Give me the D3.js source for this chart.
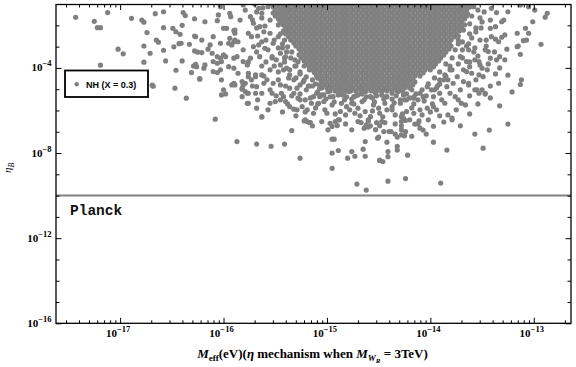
<!DOCTYPE html>
<html>
<head>
<meta charset="utf-8">
<script src="https://cdn.jsdelivr.net/npm/d3@7"></script>
<style>
  body { margin: 0; background: #fff; }
</style>
</head>
<body>
<div id="chart"></div>
<script>
// Values, as log10(M_eff / eV) and log10(eta_B)

// scattered points around the cloud
var outerPts = [
  // far left
  [-17.43,-1.62],[-17.12,-1.40],[-17.25,-1.81],[-17.22,-2.11],[-17.19,-2.11],[-16.89,-1.67],[-16.79,-1.75],[-16.77,-1.85],
  [-16.66,-1.45],[-16.58,-1.36],[-16.39,-1.40],[-16.37,-1.54],[-16.28,-1.69],[-16.58,-2.11],[-16.49,-2.14],[-16.46,-2.30],
  [-16.40,-2.00],[-16.74,-2.34],[-16.42,-2.42],[-16.28,-2.50],[-16.65,-2.69],[-16.63,-2.79],[-16.77,-2.97],[-17.02,-3.12],
  [-16.97,-3.34],[-16.58,-3.17],[-16.48,-3.01],[-16.43,-2.86],[-16.41,-2.84],[-16.33,-2.89],[-16.28,-3.20],[-16.25,-3.26],
  [-16.71,-3.31],[-16.77,-3.73],[-16.56,-3.67],[-16.40,-3.67],[-16.29,-3.91],[-16.27,-3.83],[-17.19,-3.87],[-16.46,-4.11],
  [-16.31,-4.22],[-16.23,-4.50],[-16.69,-4.81],[-16.68,-4.86],[-16.47,-4.95],[-16.36,-5.42],
  // left wing
  [-16.18,-1.83],[-16.06,-1.78],[-16.05,-1.51],[-16.03,-1.12],[-15.94,-1.43],[-15.93,-1.59],[-16.00,-2.14],[-15.97,-2.14],
  [-15.90,-2.25],[-15.89,-2.37],[-16.10,-2.53],[-16.27,-2.53],[-16.21,-2.69],[-16.13,-2.92],[-16.03,-2.84],[-15.94,-2.61],
  [-15.89,-2.69],[-15.86,-2.77],[-15.95,-2.84],[-15.92,-2.92],[-16.21,-3.28],[-16.15,-3.12],[-16.11,-3.31],[-16.06,-3.47],
  [-16.03,-3.54],[-16.10,-3.70],[-16.06,-3.78],[-16.02,-3.70],[-16.00,-3.39],[-15.98,-3.47],[-15.90,-3.54],[-15.87,-3.47],
  [-16.26,-3.94],[-16.19,-4.01],[-16.18,-3.86],[-16.10,-4.17],[-16.06,-4.22],[-16.03,-4.09],[-15.95,-3.94],[-15.90,-4.01],
  [-16.23,-4.53],[-16.02,-4.56],[-15.92,-4.80],[-15.89,-4.80],[-15.82,-4.64],[-15.81,-4.80],[-16.00,-5.03],[-16.02,-5.27],
  [-15.98,-5.22],[-15.77,-5.19],[-15.76,-5.66],[-15.68,-5.89],[-15.63,-6.31],[-16.08,-6.41],[-15.82,-5.00],[-15.79,-5.11],
  [-15.76,-4.41],[-15.73,-4.56],[-15.69,-4.33],
  [-15.89,-2.22],[-15.90,-2.77],[-15.81,-1.04],[-15.79,-1.28],[-15.84,-1.75],[-15.74,-1.59],[-15.71,-1.90],[-15.76,-2.37],
  [-15.73,-2.53],[-15.81,-3.15],[-15.71,-3.00],[-15.74,-3.54],[-15.66,-1.20],[-15.63,-1.43],[-15.65,-2.06],[-15.61,-2.30],
  [-15.63,-2.77],[-15.60,-3.08],[-15.65,-3.47],[-15.57,-1.12],[-15.55,-1.75],[-15.55,-2.37],[-15.52,-2.84],[-15.53,-3.47],
  [-15.48,-1.43],[-15.47,-1.98],[-15.47,-2.53],[-15.45,-3.31],[-15.41,-2.69],[-15.38,-3.01],[-15.40,-3.48],[-15.34,-3.25],
  [-15.31,-3.62],[-15.37,-2.22],[-15.42,-1.65],[-15.39,-1.28],[-15.59,-3.72],[-15.51,-3.91],[-15.43,-3.06],
  [-15.81,-3.70],[-15.77,-3.86],[-15.86,-4.25],[-15.76,-4.25],[-15.90,-4.72],[-15.79,-4.72],[-15.82,-4.95],[-15.69,-4.41],
  [-15.63,-4.33],[-15.68,-4.88],[-15.61,-4.72],[-15.58,-4.56],[-15.76,-5.19],[-15.69,-5.19],[-15.63,-5.19],[-15.82,-5.35],
  [-15.53,-5.19],[-15.44,-5.19],[-15.52,-4.72],[-15.47,-4.56],[-15.45,-4.80],[-15.77,-5.66],[-15.55,-5.66],[-15.50,-5.58],
  [-15.45,-5.50],[-15.40,-5.58],[-15.42,-5.35],[-15.36,-5.82],[-15.32,-5.94],[-15.29,-5.97],[-15.28,-5.42],[-15.24,-5.82],
  [-15.19,-5.97],[-15.15,-5.66],[-15.13,-6.13],[-15.21,-6.44],[-15.63,-6.29],[-15.36,-4.95],[-15.32,-5.19],[-15.29,-4.95],
  [-15.26,-4.80],[-15.45,-3.86],[-15.42,-4.09],[-15.39,-4.01],[-15.36,-4.33],[-15.32,-4.56],[-15.21,-5.50],[-15.13,-5.35],
  [-15.28,-3.72],[-15.22,-3.91],[-15.17,-4.09],[-15.26,-4.19],[-15.20,-4.42],[-15.14,-4.56],[-15.23,-4.66],[-15.17,-4.85],
  [-15.11,-4.75],[-15.09,-4.47],
  [-15.70,-1.00],[-15.68,-1.37],[-15.72,-1.75],[-15.63,-1.65],[-15.68,-2.12],[-15.60,-2.03],[-15.67,-2.50],[-15.59,-2.69],
  [-15.62,-1.18],[-15.66,-2.92],[-15.57,-3.15],[-15.49,-3.62],[-15.41,-3.72],[-15.55,-4.09],[-15.37,-4.47],[-15.47,-4.19],
  [-15.30,-3.91],[-15.40,-4.85],[-15.34,-5.31],[-15.26,-5.22],[-15.20,-5.03],[-15.14,-4.85],[-15.09,-5.13],
  [-15.68,-3.25],[-15.76,-3.72],[-15.63,-3.91],[-15.53,-3.53],[-15.61,-4.38],[-15.72,-4.85],[-15.55,-5.03],[-15.67,-5.50],
  [-15.49,-5.31],[-15.38,-5.69],[-15.30,-6.25],[-15.43,-6.07],[-15.57,-5.97],
  [-15.43,-2.87],[-15.39,-3.25],[-15.35,-3.53],[-15.31,-3.91],[-15.26,-4.28],[-15.22,-4.56],[-15.18,-4.85],[-15.30,-4.47],
  [-15.36,-4.09],[-15.41,-3.53],[-15.47,-3.06],[-15.51,-2.69],[-15.45,-2.40],
  // under the cloud
  [-15.10,-5.19],[-15.07,-5.35],[-15.03,-5.27],[-14.99,-5.11],[-14.94,-5.35],[-14.89,-5.19],[-14.84,-5.27],[-14.79,-5.11],
  [-14.74,-5.35],[-14.70,-5.27],[-14.63,-5.11],[-14.58,-5.35],[-14.53,-5.19],[-14.47,-5.11],[-14.42,-5.35],[-14.37,-5.19],
  [-14.31,-5.11],[-14.26,-5.27],[-15.08,-5.66],[-15.03,-5.58],[-14.95,-5.74],[-14.86,-5.66],[-14.81,-5.82],[-14.76,-5.66],
  [-14.70,-5.89],[-14.66,-5.58],[-14.55,-5.74],[-14.50,-5.89],[-14.44,-5.66],[-14.37,-5.82],[-14.29,-5.66],[-15.00,-6.13],
  [-14.87,-6.05],[-14.82,-6.21],[-14.73,-6.13],[-14.63,-6.05],[-14.58,-6.29],[-14.49,-6.13],[-14.42,-5.97],[-14.34,-6.21],
  [-15.05,-6.52],[-14.97,-6.60],[-14.89,-6.44],[-14.70,-6.52],[-14.60,-6.44],[-14.52,-6.57],[-14.28,-6.29],
  [-15.07,-4.95],[-14.97,-4.85],[-14.87,-5.00],[-14.78,-4.90],[-14.68,-4.95],[-14.56,-4.85],[-14.45,-5.00],[-14.34,-4.90],
  [-14.24,-4.85],[-14.18,-5.03],
  [-14.85,-5.27],[-14.76,-5.46],[-14.66,-5.22],[-14.56,-5.41],[-14.47,-5.27],[-14.37,-5.46],
  [-15.05,-5.27],[-14.97,-5.36],[-14.89,-5.27],[-14.81,-5.36],[-14.72,-5.31],[-14.62,-5.36],[-14.52,-5.31],[-14.43,-5.36],
  [-14.33,-5.31],[-14.23,-5.22],[-14.16,-5.36],
  [-15.26,-5.50],[-15.16,-5.41],[-15.09,-5.69],[-15.01,-5.46],[-14.93,-5.60],[-14.83,-5.50],[-14.74,-5.69],[-14.64,-5.50],
  [-14.54,-5.60],[-14.45,-5.46],[-14.35,-5.64],[-14.25,-5.50],[-14.16,-5.69],[-14.06,-5.55],[-13.98,-5.69],
  [-15.21,-6.07],[-15.11,-5.88],[-15.02,-5.97],[-14.92,-6.16],[-14.78,-5.97],[-14.68,-6.25],[-14.56,-6.02],[-14.46,-6.30],
  [-14.37,-5.97],[-14.27,-6.16],[-14.18,-5.88],[-14.08,-6.21],[-14.00,-6.07],[-13.91,-6.25],[-13.75,-5.97],
  [-15.14,-6.72],[-14.99,-6.91],[-14.82,-6.63],[-14.76,-6.91],[-14.49,-6.72],[-14.34,-6.63],[-14.12,-6.63],[-14.02,-6.44],
  [-13.87,-6.54],[-13.71,-6.72],[-13.62,-6.16],[-13.54,-5.69],[-13.42,-5.41],[-13.33,-5.78],
  // right flank
  [-13.71,-3.47],[-13.65,-3.70],[-13.57,-3.62],[-13.52,-3.86],[-13.68,-4.09],[-13.60,-4.25],[-13.53,-4.33],[-13.45,-4.09],
  [-13.74,-4.41],[-13.68,-4.64],[-13.63,-4.72],[-13.84,-4.88],[-13.78,-4.72],[-13.81,-5.19],[-13.91,-5.19],[-13.89,-5.50],
  [-13.86,-5.66],[-13.76,-5.35],[-13.73,-5.50],[-13.70,-5.66],[-13.66,-5.74],[-13.97,-5.82],[-13.94,-5.97],[-14.03,-5.89],
  [-14.10,-5.97],[-14.23,-6.05],[-14.16,-6.13],[-13.83,-6.21],[-13.79,-6.36],[-13.57,-5.03],[-13.53,-5.19],[-13.50,-5.03],
  [-13.47,-5.19],[-14.03,-4.88],[-13.99,-5.03],[-14.10,-5.19],[-14.07,-5.35],[-14.16,-5.42],[-14.23,-5.50],[-13.97,-5.35],
  [-14.26,-6.36],[-14.20,-6.44],[-13.91,-4.56],[-13.86,-4.33],[-13.81,-4.09],[-13.93,-4.84],[-13.83,-4.56],
  [-13.69,-2.78],[-13.76,-3.15],[-13.79,-3.53],[-13.85,-3.81],[-13.91,-4.19],[-13.96,-4.47],[-14.02,-4.75],[-14.08,-5.03],
  [-14.14,-5.22],[-13.73,-2.50],[-13.81,-3.91],[-13.87,-4.56],[-13.94,-4.94],
  [-13.71,-1.20],[-13.64,-1.46],[-13.58,-1.12],[-13.52,-1.65],[-13.62,-1.93],[-13.68,-2.22],[-13.56,-2.31],[-13.48,-1.37],
  [-13.73,-2.69],[-13.63,-2.87],[-13.57,-3.06],[-13.69,-3.15],[-13.46,-2.69],[-13.42,-1.75],[-13.60,-2.59],[-13.51,-2.12],
  [-13.58,-0.95],[-13.54,-1.28],[-13.60,-1.56],[-13.50,-1.84],[-13.56,-2.12],[-13.62,-2.40],[-13.52,-2.69],[-13.65,-2.97],
  [-13.58,-3.25],[-13.69,-3.53],[-13.73,-3.81],[-13.79,-4.09],[-13.85,-4.38],[-13.91,-4.75],[-13.96,-5.03],[-14.04,-5.31],
  [-14.12,-5.50],[-14.20,-5.41],[-14.29,-5.50],
  [-13.46,-2.97],[-13.38,-3.25],[-13.54,-3.44],[-13.62,-3.72],[-13.44,-3.81],[-13.33,-4.00],[-13.56,-4.56],[-13.42,-4.85],
  [-13.71,-5.03],[-13.62,-5.31],[-13.28,-3.62],[-13.21,-5.13],[-13.73,-2.87],[-13.63,-3.15],
  [-13.41,-1.20],[-13.36,-1.40],[-13.25,-1.36],[-13.13,-1.04],[-13.05,-1.12],[-12.99,-1.28],[-12.87,-1.43],[-12.89,-1.62],
  [-13.01,-1.83],[-13.08,-2.14],[-13.16,-2.37],[-13.05,-2.37],[-13.10,-2.72],[-13.07,-2.69],[-12.93,-2.89],[-13.16,-3.00],
  [-13.15,-2.97],[-13.13,-3.36],[-13.31,-1.83],[-13.29,-1.75],[-13.42,-2.14],[-13.37,-2.06],[-13.41,-2.53],[-13.37,-2.65],
  [-13.34,-2.77],[-13.31,-2.56],[-13.28,-2.45],[-13.26,-3.12],[-13.33,-3.47],[-13.36,-3.62],[-13.47,-3.15],[-13.44,-3.23],
  [-13.42,-3.54],[-13.53,-3.70],[-13.50,-4.01],[-13.37,-4.28],[-13.25,-4.34],[-13.12,-4.56],[-13.13,-4.78],[-13.34,-4.72],
  [-13.55,-5.03],[-13.47,-5.23],[-13.63,-4.80],[-13.62,-3.94],[-13.65,-4.17],[-13.49,-4.41],
  // low tail
  [-15.22,-6.49],[-15.19,-6.52],[-15.17,-6.57],[-15.16,-6.57],[-15.34,-6.94],[-15.87,-7.46],[-15.68,-7.58],[-15.54,-7.68],
  [-15.41,-7.58],[-15.26,-8.24],[-14.95,-6.75],[-14.92,-6.52],[-14.90,-6.71],[-14.88,-6.44],[-14.95,-7.35],[-14.93,-7.35],
  [-14.95,-8.00],[-14.89,-7.88],[-14.95,-8.72],[-14.80,-8.24],[-14.76,-7.93],[-14.73,-8.15],[-14.67,-6.57],[-14.64,-6.83],
  [-14.62,-6.68],[-14.60,-6.78],[-14.60,-6.49],[-14.53,-6.90],[-14.63,-7.46],[-14.65,-7.82],[-14.63,-8.15],[-14.51,-7.30],
  [-14.50,-7.25],[-14.49,-8.33],[-14.71,-9.46],[-14.62,-9.74],[-14.58,-6.72],[-14.45,-6.99],[-14.47,-6.52],[-14.44,-6.57],
  [-14.40,-6.99],[-14.38,-6.99],[-14.42,-7.49],[-14.41,-7.93],[-14.41,-8.17],[-14.49,-8.35],[-14.46,-8.40],[-14.41,-9.32],
  [-14.34,-7.11],[-14.32,-7.25],[-14.32,-7.68],[-14.32,-7.86],[-14.28,-6.52],[-14.28,-6.72],[-14.28,-6.91],[-14.28,-7.15],
  [-14.25,-7.19],[-14.24,-6.99],[-14.24,-6.47],[-14.22,-8.10],[-14.24,-9.20],[-14.18,-7.21],[-14.15,-6.64],[-14.11,-6.49],
  [-14.10,-6.83],[-14.07,-6.92],[-14.04,-7.11],[-13.97,-6.74],[-13.97,-7.49],[-13.90,-9.41],[-13.84,-7.86],[-13.79,-6.44],
  [-13.57,-7.11],[-13.49,-7.77],[-13.43,-6.92],[-13.25,-6.64]
];

// the saturated core of the cloud, read row by row (one eta per row)
var coreEta = [-1.00,-1.14,-1.28,-1.42,-1.56,-1.70,-1.84,-1.98,-2.12,-2.26,
               -2.40,-2.54,-2.69,-2.83,-2.97,-3.11,-3.25,-3.39,-3.53,-3.67,
               -3.81,-3.95,-4.09,-4.23,-4.38,-4.52,-4.66,-4.80,-4.94,-5.08];
var coreM = [
  [-15.55,-15.50,-15.45,-15.40,-15.35,-15.30,-15.25,-15.20,-15.15,-15.10,-15.05,-15.00,-14.95,-14.90,-14.85,-14.80,-14.75,-14.70,-14.65,-14.60,-14.55,-14.50,-14.45,-14.40,-14.35,-14.30,-14.25,-14.20,-14.15,-14.10,-14.05,-14.00,-13.95,-13.90,-13.85,-13.80,-13.75,-13.70,-13.65],
  [-15.52,-15.47,-15.42,-15.37,-15.32,-15.27,-15.22,-15.17,-15.12,-15.07,-15.02,-14.97,-14.92,-14.87,-14.82,-14.77,-14.72,-14.67,-14.62,-14.57,-14.52,-14.47,-14.42,-14.37,-14.32,-14.27,-14.22,-14.17,-14.12,-14.07,-14.02,-13.97,-13.92,-13.87,-13.82,-13.77,-13.72,-13.67,-13.62],
  [-15.50,-15.45,-15.40,-15.35,-15.30,-15.25,-15.20,-15.15,-15.10,-15.05,-15.00,-14.95,-14.90,-14.85,-14.80,-14.75,-14.70,-14.65,-14.60,-14.55,-14.50,-14.45,-14.40,-14.35,-14.30,-14.25,-14.20,-14.15,-14.10,-14.05,-14.00,-13.95,-13.90,-13.85,-13.80,-13.75,-13.70,-13.65],
  [-15.52,-15.47,-15.42,-15.37,-15.32,-15.27,-15.22,-15.17,-15.12,-15.07,-15.02,-14.97,-14.92,-14.87,-14.82,-14.77,-14.72,-14.67,-14.62,-14.57,-14.52,-14.47,-14.42,-14.37,-14.32,-14.27,-14.22,-14.17,-14.12,-14.07,-14.02,-13.97,-13.92,-13.87,-13.82,-13.77,-13.72,-13.67],
  [-15.50,-15.45,-15.40,-15.35,-15.30,-15.25,-15.20,-15.15,-15.10,-15.05,-15.00,-14.95,-14.90,-14.85,-14.80,-14.75,-14.70,-14.65,-14.60,-14.55,-14.50,-14.45,-14.40,-14.35,-14.30,-14.25,-14.20,-14.15,-14.10,-14.05,-14.00,-13.95,-13.90,-13.85,-13.80,-13.75,-13.70,-13.65],
  [-15.47,-15.42,-15.37,-15.32,-15.27,-15.22,-15.17,-15.12,-15.07,-15.02,-14.97,-14.92,-14.87,-14.82,-14.77,-14.72,-14.67,-14.62,-14.57,-14.52,-14.47,-14.42,-14.37,-14.32,-14.27,-14.22,-14.17,-14.12,-14.07,-14.02,-13.97,-13.92,-13.87,-13.82,-13.77,-13.72,-13.67],
  [-15.45,-15.40,-15.35,-15.30,-15.25,-15.20,-15.15,-15.10,-15.05,-15.00,-14.95,-14.90,-14.85,-14.80,-14.75,-14.70,-14.65,-14.60,-14.55,-14.50,-14.45,-14.40,-14.35,-14.30,-14.25,-14.20,-14.15,-14.10,-14.05,-14.00,-13.95,-13.90,-13.85,-13.80,-13.75,-13.70],
  [-15.42,-15.37,-15.32,-15.27,-15.22,-15.17,-15.12,-15.07,-15.02,-14.97,-14.92,-14.87,-14.82,-14.77,-14.72,-14.67,-14.62,-14.57,-14.52,-14.47,-14.42,-14.37,-14.32,-14.27,-14.22,-14.17,-14.12,-14.07,-14.02,-13.97,-13.92,-13.87,-13.82,-13.77,-13.72,-13.67],
  [-15.40,-15.35,-15.30,-15.25,-15.20,-15.15,-15.10,-15.05,-15.00,-14.95,-14.90,-14.85,-14.80,-14.75,-14.70,-14.65,-14.60,-14.55,-14.50,-14.45,-14.40,-14.35,-14.30,-14.25,-14.20,-14.15,-14.10,-14.05,-14.00,-13.95,-13.90,-13.85,-13.80,-13.75,-13.70],
  [-15.42,-15.37,-15.32,-15.27,-15.22,-15.17,-15.12,-15.07,-15.02,-14.97,-14.92,-14.87,-14.82,-14.77,-14.72,-14.67,-14.62,-14.57,-14.52,-14.47,-14.42,-14.37,-14.32,-14.27,-14.22,-14.17,-14.12,-14.07,-14.02,-13.97,-13.92,-13.87,-13.82,-13.77,-13.72],
  [-15.40,-15.35,-15.30,-15.25,-15.20,-15.15,-15.10,-15.05,-15.00,-14.95,-14.90,-14.85,-14.80,-14.75,-14.70,-14.65,-14.60,-14.55,-14.50,-14.45,-14.40,-14.35,-14.30,-14.25,-14.20,-14.15,-14.10,-14.05,-14.00,-13.95,-13.90,-13.85,-13.80,-13.75],
  [-15.37,-15.32,-15.27,-15.22,-15.17,-15.12,-15.07,-15.02,-14.97,-14.92,-14.87,-14.82,-14.77,-14.72,-14.67,-14.62,-14.57,-14.52,-14.47,-14.42,-14.37,-14.32,-14.27,-14.22,-14.17,-14.12,-14.07,-14.02,-13.97,-13.92,-13.87,-13.82,-13.77],
  [-15.35,-15.30,-15.25,-15.20,-15.15,-15.10,-15.05,-15.00,-14.95,-14.90,-14.85,-14.80,-14.75,-14.70,-14.65,-14.60,-14.55,-14.50,-14.45,-14.40,-14.35,-14.30,-14.25,-14.20,-14.15,-14.10,-14.05,-14.00,-13.95,-13.90,-13.85,-13.80],
  [-15.32,-15.27,-15.22,-15.17,-15.12,-15.07,-15.02,-14.97,-14.92,-14.87,-14.82,-14.77,-14.72,-14.67,-14.62,-14.57,-14.52,-14.47,-14.42,-14.37,-14.32,-14.27,-14.22,-14.17,-14.12,-14.07,-14.02,-13.97,-13.92,-13.87,-13.82],
  [-15.30,-15.25,-15.20,-15.15,-15.10,-15.05,-15.00,-14.95,-14.90,-14.85,-14.80,-14.75,-14.70,-14.65,-14.60,-14.55,-14.50,-14.45,-14.40,-14.35,-14.30,-14.25,-14.20,-14.15,-14.10,-14.05,-14.00,-13.95,-13.90,-13.85,-13.80],
  [-15.27,-15.22,-15.17,-15.12,-15.07,-15.02,-14.97,-14.92,-14.87,-14.82,-14.77,-14.72,-14.67,-14.62,-14.57,-14.52,-14.47,-14.42,-14.37,-14.32,-14.27,-14.22,-14.17,-14.12,-14.07,-14.02,-13.97,-13.92,-13.87,-13.82],
  [-15.25,-15.20,-15.15,-15.10,-15.05,-15.00,-14.95,-14.90,-14.85,-14.80,-14.75,-14.70,-14.65,-14.60,-14.55,-14.50,-14.45,-14.40,-14.35,-14.30,-14.25,-14.20,-14.15,-14.10,-14.05,-14.00,-13.95,-13.90,-13.85],
  [-15.27,-15.22,-15.17,-15.12,-15.07,-15.02,-14.97,-14.92,-14.87,-14.82,-14.77,-14.72,-14.67,-14.62,-14.57,-14.52,-14.47,-14.42,-14.37,-14.32,-14.27,-14.22,-14.17,-14.12,-14.07,-14.02,-13.97,-13.92,-13.87],
  [-15.25,-15.20,-15.15,-15.10,-15.05,-15.00,-14.95,-14.90,-14.85,-14.80,-14.75,-14.70,-14.65,-14.60,-14.55,-14.50,-14.45,-14.40,-14.35,-14.30,-14.25,-14.20,-14.15,-14.10,-14.05,-14.00,-13.95,-13.90],
  [-15.22,-15.17,-15.12,-15.07,-15.02,-14.97,-14.92,-14.87,-14.82,-14.77,-14.72,-14.67,-14.62,-14.57,-14.52,-14.47,-14.42,-14.37,-14.32,-14.27,-14.22,-14.17,-14.12,-14.07,-14.02,-13.97,-13.92],
  [-15.20,-15.15,-15.10,-15.05,-15.00,-14.95,-14.90,-14.85,-14.80,-14.75,-14.70,-14.65,-14.60,-14.55,-14.50,-14.45,-14.40,-14.35,-14.30,-14.25,-14.20,-14.15,-14.10,-14.05,-14.00,-13.95],
  [-15.17,-15.12,-15.07,-15.02,-14.97,-14.92,-14.87,-14.82,-14.77,-14.72,-14.67,-14.62,-14.57,-14.52,-14.47,-14.42,-14.37,-14.32,-14.27,-14.22,-14.17,-14.12,-14.07,-14.02,-13.97],
  [-15.15,-15.10,-15.05,-15.00,-14.95,-14.90,-14.85,-14.80,-14.75,-14.70,-14.65,-14.60,-14.55,-14.50,-14.45,-14.40,-14.35,-14.30,-14.25,-14.20,-14.15,-14.10,-14.05,-14.00],
  [-15.12,-15.07,-15.02,-14.97,-14.92,-14.87,-14.82,-14.77,-14.72,-14.67,-14.62,-14.57,-14.52,-14.47,-14.42,-14.37,-14.32,-14.27,-14.22,-14.17,-14.12,-14.07],
  [-15.10,-15.05,-15.00,-14.95,-14.90,-14.85,-14.80,-14.75,-14.70,-14.65,-14.60,-14.55,-14.50,-14.45,-14.40,-14.35,-14.30,-14.25,-14.20,-14.15,-14.10],
  [-15.07,-15.02,-14.97,-14.92,-14.87,-14.82,-14.77,-14.72,-14.67,-14.62,-14.57,-14.52,-14.47,-14.42,-14.37,-14.32,-14.27,-14.22,-14.17],
  [-15.05,-15.00,-14.95,-14.90,-14.85,-14.80,-14.75,-14.70,-14.65,-14.60,-14.55,-14.50,-14.45,-14.40,-14.35,-14.30,-14.25,-14.20,-14.15],
  [-15.07,-15.02,-14.97,-14.92,-14.87,-14.82,-14.77,-14.72,-14.67,-14.62,-14.57,-14.52,-14.47,-14.42,-14.37,-14.32,-14.27,-14.22,-14.17],
  [-15.05,-15.00,-14.95,-14.90,-14.85,-14.80,-14.75,-14.70,-14.65,-14.60,-14.55,-14.50,-14.45,-14.40,-14.35,-14.30,-14.25,-14.20],
  [-14.97,-14.92,-14.87,-14.82,-14.77,-14.72,-14.67,-14.62,-14.57,-14.52,-14.47,-14.42,-14.37,-14.32,-14.27]
];

// axis exponents and the Planck value
var xMajorExp = [-17, -16, -15, -14, -13];
var yTickExp = [-16,-15,-14,-13,-12,-11,-10,-9,-8,-7,-6,-5,-4,-3,-2];
var yMajorExp = [-16, -12, -8, -4];
var planckEta = 1e-10;
var legendLabel = "NH (X = 0.3)";

// SVG window
var svgWidth = 576;
var svgHeight = 367;
var margin = { top: 4.5, right: 5, bottom: 43.7, left: 56 };
var width = svgWidth - margin.left - margin.right;
var height = svgHeight - margin.top - margin.bottom;

var svg = d3.select("#chart")
  .append("svg")
  .attr("width", svgWidth)
  .attr("height", svgHeight)
  .style("background", "#fff");

var chartGroup = svg.append("g")
  .attr("transform", `translate(${margin.left}, ${margin.top})`);

var xScale = d3.scaleLog()
  .domain([Math.pow(10, -17.62), Math.pow(10, -12.64)])
  .range([0, width]);

var yScale = d3.scaleLog()
  .domain([1e-16, Math.pow(10, -1.02)])
  .range([height, 0]);

// build the point list
var points = outerPts.map(d => ({ m: Math.pow(10, d[0]), eta: Math.pow(10, d[1]) }));
coreM.forEach((row, i) => {
  row.forEach(v => points.push({ m: Math.pow(10, v), eta: Math.pow(10, coreEta[i]) }));
});

svg.append("defs").append("clipPath")
  .attr("id", "plotClip")
  .append("rect")
  .attr("width", width)
  .attr("height", height);

var pointGroup = chartGroup.append("g").attr("clip-path", "url(#plotClip)");

pointGroup.selectAll("circle")
  .data(points)
  .enter()
  .append("circle")
  .attr("cx", d => xScale(d.m))
  .attr("cy", d => yScale(d.eta))
  .attr("r", 2.6)
  .attr("fill", "#808080");

// Planck line
chartGroup.append("line")
  .attr("x1", 0)
  .attr("x2", width)
  .attr("y1", yScale(planckEta))
  .attr("y2", yScale(planckEta))
  .attr("stroke", "#808080")
  .attr("stroke-width", 2);

chartGroup.append("text")
  .attr("x", 14)
  .attr("y", yScale(planckEta) + 19)
  .attr("font-family", "'Liberation Mono', 'DejaVu Sans Mono', monospace")
  .attr("font-weight", "bold")
  .attr("font-size", 14.5)
  .attr("fill", "#111")
  .text("Planck");

// ticks: inward, on all four sides
var xMajor = xMajorExp.map(e => Math.pow(10, e));
var xMinor = xScale.ticks().filter(v => !xMajor.some(m => Math.abs(v / m - 1) < 1e-6));
var yAll = yTickExp.map(e => Math.pow(10, e));
var yMajor = yMajorExp.map(e => Math.pow(10, e));
var yMinor = yAll.filter(v => !yMajor.some(m => Math.abs(v / m - 1) < 1e-6));

function addAxis(axis, transform) {
  var g = chartGroup.append("g").attr("transform", transform).call(axis);
  g.select(".domain").remove();
  g.selectAll("text").remove();
  g.selectAll("line").attr("stroke", "#000").attr("stroke-width", 1);
  return g;
}

addAxis(d3.axisBottom(xScale).tickValues(xMajor).tickSize(-5.5).tickFormat(""), `translate(0, ${height})`);
addAxis(d3.axisBottom(xScale).tickValues(xMinor).tickSize(-3).tickFormat(""), `translate(0, ${height})`);
addAxis(d3.axisTop(xScale).tickValues(xMajor).tickSize(-5.5).tickFormat(""), "translate(0, 0)");
addAxis(d3.axisTop(xScale).tickValues(xMinor).tickSize(-3).tickFormat(""), "translate(0, 0)");
addAxis(d3.axisLeft(yScale).tickValues(yMajor).tickSize(-5.5).tickFormat(""), "translate(0, 0)");
addAxis(d3.axisLeft(yScale).tickValues(yMinor).tickSize(-3.5).tickFormat(""), "translate(0, 0)");
addAxis(d3.axisRight(yScale).tickValues(yMajor).tickSize(-5.5).tickFormat(""), `translate(${width}, 0)`);
addAxis(d3.axisRight(yScale).tickValues(yMinor).tickSize(-3.5).tickFormat(""), `translate(${width}, 0)`);

// frame
chartGroup.append("rect")
  .attr("width", width)
  .attr("height", height)
  .attr("fill", "none")
  .attr("stroke", "#000")
  .attr("stroke-width", 1.3);

// tick labels
var serif = "'Liberation Serif', 'DejaVu Serif', serif";

xMajorExp.forEach(e => {
  var t = chartGroup.append("text")
    .attr("x", xScale(Math.pow(10, e)) - 2)
    .attr("y", height + 14)
    .attr("text-anchor", "middle")
    .attr("font-family", serif)
    .attr("font-weight", "bold")
    .attr("font-size", 11);
  t.append("tspan").text("10");
  t.append("tspan").attr("dy", -5).attr("font-size", 8.5).text("\u2212" + (-e));
});

yMajorExp.forEach(e => {
  var t = chartGroup.append("text")
    .attr("x", -4.5)
    .attr("y", yScale(Math.pow(10, e)) + 3.5)
    .attr("text-anchor", "end")
    .attr("font-family", serif)
    .attr("font-weight", "bold")
    .attr("font-size", 11);
  t.append("tspan").text("10");
  t.append("tspan").attr("dy", -5).attr("font-size", 8.5).text("\u2212" + (-e));
});

// y-axis title
var yTitle = svg.append("text")
  .attr("transform", `translate(11, ${margin.top + height / 2 + 4}) rotate(-90)`)
  .attr("text-anchor", "middle")
  .attr("font-family", serif)
  .attr("font-size", 11);
yTitle.append("tspan").attr("font-style", "italic").text("\u03b7");
yTitle.append("tspan").attr("font-style", "italic").attr("font-size", 8).attr("dy", 3).text("B");

// x-axis title
var xTitle = svg.append("text")
  .attr("x", 312.5)
  .attr("y", 358)
  .attr("text-anchor", "middle")
  .attr("font-family", serif)
  .attr("font-weight", "bold")
  .attr("font-size", 13);
xTitle.append("tspan").attr("font-style", "italic").text("M");
xTitle.append("tspan").attr("font-size", 9).attr("dy", 3).text("eff");
xTitle.append("tspan").attr("dy", -3).text("(eV)(");
xTitle.append("tspan").attr("font-style", "italic").text("\u03b7");
xTitle.append("tspan").text(" mechanism when ");
xTitle.append("tspan").attr("font-style", "italic").text("M");
xTitle.append("tspan").attr("font-style", "italic").attr("font-size", 9).attr("dy", 3).text("W");
xTitle.append("tspan").attr("font-style", "italic").attr("font-size", 7).attr("dy", 2).text("R");
xTitle.append("tspan").attr("dy", -5).text(" = 3TeV)");

// legend
var legend = svg.append("g");
legend.append("rect")
  .attr("x", 65)
  .attr("y", 70.5)
  .attr("width", 83)
  .attr("height", 26.5)
  .attr("fill", "#fff")
  .attr("stroke", "#000")
  .attr("stroke-width", 1.8);
legend.append("circle")
  .attr("cx", 76.7)
  .attr("cy", 84.3)
  .attr("r", 2.2)
  .attr("fill", "#808080");
legend.append("text")
  .attr("x", 86)
  .attr("y", 87.6)
  .attr("font-family", "'Liberation Sans', Arial, sans-serif")
  .attr("font-weight", "bold")
  .attr("font-size", 9)
  .attr("fill", "#000")
  .text(legendLabel);
</script>
</body>
</html>
